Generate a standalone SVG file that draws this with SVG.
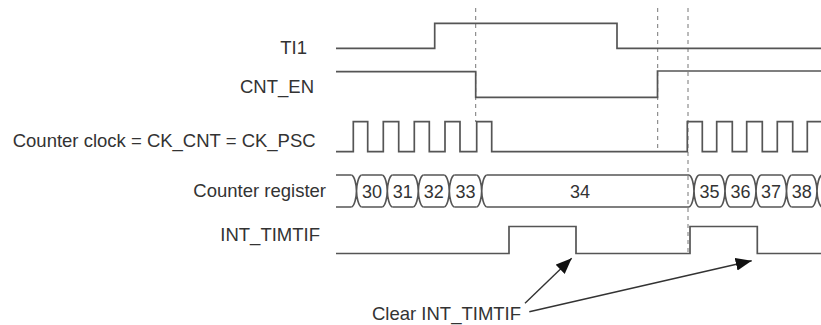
<svg xmlns="http://www.w3.org/2000/svg" width="821" height="325" viewBox="0 0 821 325">
<style>
text{font-family:"Liberation Sans",Arial,sans-serif;font-size:18.5px;fill:#333}
.w{fill:none;stroke:#555;stroke-width:1.7}
.d{fill:none;stroke:#777;stroke-width:1;stroke-dasharray:4 4}
.a{fill:none;stroke:#333;stroke-width:1.4}
.n{text-anchor:middle;font-size:18px}
.e{text-anchor:end}
</style>
<defs>
<marker id="ah" markerUnits="userSpaceOnUse" markerWidth="18" markerHeight="14" refX="16" refY="6.5" orient="auto">
<path d="M0,0 L16,6.5 L0,13 z" fill="#111"/>
</marker>
</defs>
<rect width="821" height="325" fill="#fff"/>
<g id="labels">
<text x="307" y="53.5" class="e">TI1</text>
<text x="314" y="93" class="e">CNT_EN</text>
<text x="12.7" y="146.7">Counter clock = CK_CNT = CK_PSC</text>
<text x="326" y="196.7" class="e">Counter register</text>
<text x="320" y="240.5" class="e">INT_TIMTIF</text>
</g>
<g id="guides">
<line class="d" x1="475.7" y1="8" x2="475.7" y2="122"/>
<line class="d" x1="657.7" y1="8" x2="657.7" y2="150"/>
<line class="d" x1="688" y1="8" x2="688" y2="253"/>
</g>
<g id="ti1"><path class="w" d="M336,48.3 H434.7 V23.3 H617 V48.3 H821"/></g>
<g id="cnt_en"><path class="w" d="M336,71.7 H475.7 V97.3 H657.5 V71 H821"/></g>
<g id="ck_cnt"><path class="w" d="M336,151.7 H353.3 V121.7 H367.7 V151.7 H383.3 V121.7 H398.7 V151.7 H414.3 V121.7 H429.3 V151.7 H445 V121.7 H460 V151.7 H476.7 V121.7 H491.7 V151.7 H687.3 V121.7 H702.3 V151.7 H716.7 V121.7 H732.3 V151.7 H746.7 V121.7 H762.3 V151.7 H777.3 V121.7 H792.7 V151.7 H807.3 V121.7 H821"/></g>
<g id="counter_register">
<path class="w" d="M336,175 H351.5 M361.5,175 H382.3 M392.3,175 H413.3 M423.3,175 H444.3 M454.3,175 H476.7 M486.7,175 H689 M699,175 H720 M730,175 H751 M761,175 H781.5 M791.5,175 H812
M336,207 H351.5 M361.5,207 H382.3 M392.3,207 H413.3 M423.3,207 H444.3 M454.3,207 H476.7 M486.7,207 H689 M699,207 H720 M730,207 H751 M761,207 H781.5 M791.5,207 H812"/>
<path class="w" d="M351.5,175 C354.5,176 356.5,185 356.5,191 C356.5,197 354.5,206 351.5,207 M361.5,175 C358.5,176 356.5,185 356.5,191 C356.5,197 358.5,206 361.5,207
M382.3,175 C385.3,176 387.3,185 387.3,191 C387.3,197 385.3,206 382.3,207 M392.3,175 C389.3,176 387.3,185 387.3,191 C387.3,197 389.3,206 392.3,207
M413.3,175 C416.3,176 418.3,185 418.3,191 C418.3,197 416.3,206 413.3,207 M423.3,175 C420.3,176 418.3,185 418.3,191 C418.3,197 420.3,206 423.3,207
M444.3,175 C447.3,176 449.3,185 449.3,191 C449.3,197 447.3,206 444.3,207 M454.3,175 C451.3,176 449.3,185 449.3,191 C449.3,197 451.3,206 454.3,207
M476.7,175 C479.7,176 481.7,185 481.7,191 C481.7,197 479.7,206 476.7,207 M486.7,175 C483.7,176 481.7,185 481.7,191 C481.7,197 483.7,206 486.7,207
M689,175 C692,176 694,185 694,191 C694,197 692,206 689,207 M699,175 C696,176 694,185 694,191 C694,197 696,206 699,207
M720,175 C723,176 725,185 725,191 C725,197 723,206 720,207 M730,175 C727,176 725,185 725,191 C725,197 727,206 730,207
M751,175 C754,176 756,185 756,191 C756,197 754,206 751,207 M761,175 C758,176 756,185 756,191 C756,197 758,206 761,207
M781.5,175 C784.5,176 786.5,185 786.5,191 C786.5,197 784.5,206 781.5,207 M791.5,175 C788.5,176 786.5,185 786.5,191 C786.5,197 788.5,206 791.5,207
M812,175 C815,176 817,185 817,191 C817,197 815,206 812,207 M822,175 C819,176 817,185 817,191 C817,197 819,206 822,207"/>
<text class="n" x="372" y="198">30</text>
<text class="n" x="402.8" y="198">31</text>
<text class="n" x="433.8" y="198">32</text>
<text class="n" x="465.5" y="198">33</text>
<text class="n" x="580" y="198">34</text>
<text class="n" x="709.5" y="198">35</text>
<text class="n" x="740.5" y="198">36</text>
<text class="n" x="771" y="198">37</text>
<text class="n" x="801.7" y="198">38</text>
</g>
<g id="int_timtif"><path class="w" d="M336,253.5 H509 V226.5 H576 V253.5 H690 V226.5 H757.3 V253.5 H821"/></g>
<g id="clear_note"><text x="372" y="320">Clear INT_TIMTIF</text></g>
<g id="connectors">
<line class="a" x1="525" y1="303.3" x2="571.7" y2="258.3" marker-end="url(#ah)"/>
<line class="a" x1="529.3" y1="311.7" x2="751.7" y2="260.7" marker-end="url(#ah)"/>
</g>
</svg>
